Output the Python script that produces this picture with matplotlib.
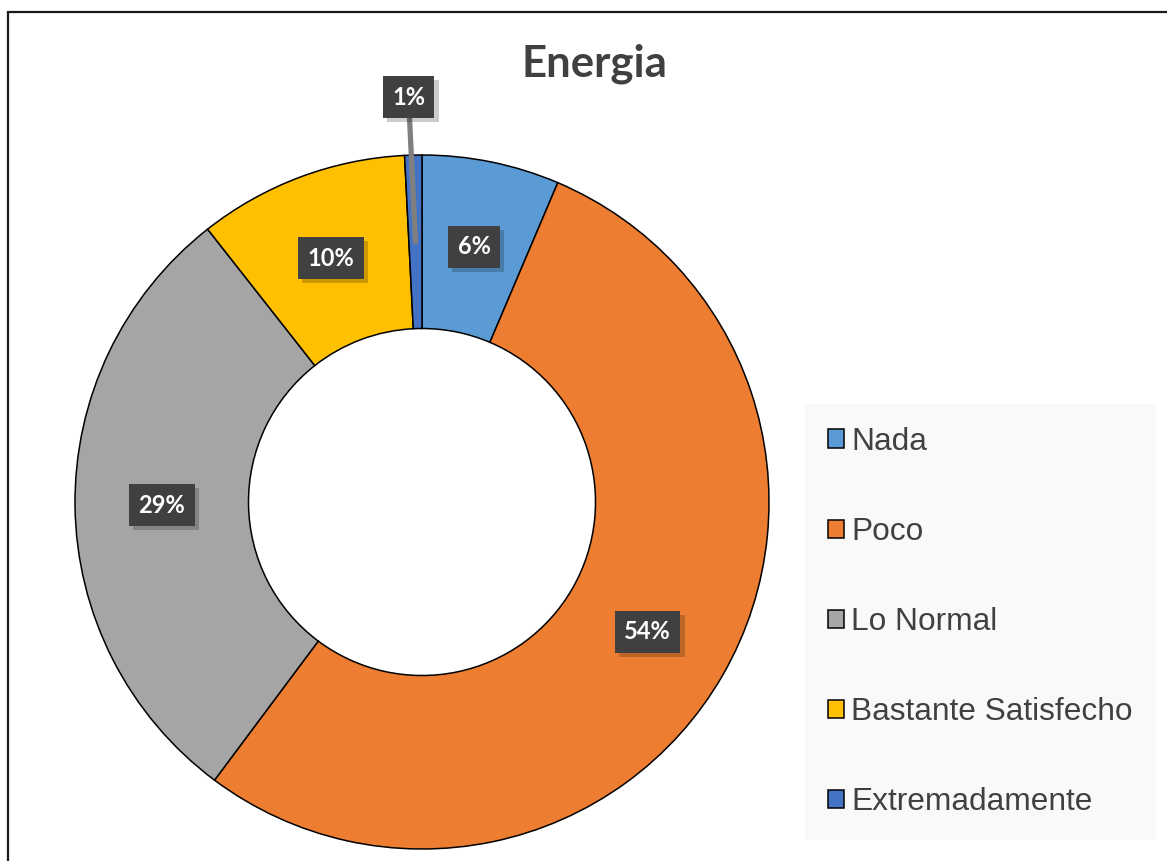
import matplotlib
matplotlib.use('Agg')
import numpy as np
import matplotlib.pyplot as plt
import matplotlib.patheffects as pe
from matplotlib.patches import Rectangle

# data (share of answers)
categories = ['Nada', 'Poco', 'Lo Normal', 'Bastante Satisfecho', 'Extremadamente']
values = [6.4, 53.8, 29.2, 9.8, 0.8]
pct_labels = ['6%', '54%', '29%', '10%', '1%']
colors = ['#5B9BD5', '#ED7D31', '#A5A5A5', '#FFC000', '#4472C4']

W, H = 1167, 861
fig = plt.figure(figsize=(W / 100, H / 100), dpi=100)
fig.patch.set_facecolor('white')

# outer frame (only top and left are visible in the crop)
fig.add_artist(Rectangle((8 / W, -0.1), 1.2, 1 - 12 / H + 0.1, transform=fig.transFigure,
                         fill=False, edgecolor='#1a1a1a', lw=1.6))

# donut: centre (422, 502), radius 347 px
cx, cy, r = 422, 502, 347
ax = fig.add_axes([(cx - r) / W, 1 - (cy + r) / H, 2 * r / W, 2 * r / H])
wedges, _ = ax.pie(values, colors=colors, startangle=90, counterclock=False,
                   radius=1, wedgeprops=dict(width=0.5, edgecolor='black', linewidth=1.1))
ax.set_xlim(-1, 1)
ax.set_ylim(-1, 1)
ax.set_aspect('equal')
ax.axis('off')

box = dict(boxstyle='square,pad=0.4', facecolor='#404040', edgecolor='none')
shadow = [pe.SimplePatchShadow(offset=(3, -3), shadow_rgbFace='black', alpha=0.2), pe.Normal()]

total = sum(values)
cum = 0
for w, v, lab in zip(wedges, values, pct_labels):
    mid = 90 - 360 * (cum + v / 2) / total
    cum += v
    x = 0.75 * np.cos(np.radians(mid))
    y = 0.75 * np.sin(np.radians(mid))
    if v < 2:
        # small slice: label outside with a leader line
        t = ax.annotate(lab, xy=(x, y), xytext=(x - 0.02, 1.167), ha='center', va='center',
                        color='white', fontsize=17, fontweight='bold', family='Lato',
                        bbox=box, annotation_clip=False,
                        arrowprops=dict(arrowstyle='-', color='#7f7f7f', lw=3.8,
                                        shrinkA=0, shrinkB=0))
    else:
        t = ax.text(x, y, lab, ha='center', va='center', color='white', fontsize=17,
                    fontweight='bold', family='Lato', bbox=box)
    t.get_bbox_patch().set_path_effects(shadow)

fig.text(594 / W, 1 - 64 / H, 'Energia', ha='center', va='center', fontsize=31.5,
         fontweight='bold', family='Lato', color='#404040')

leg = fig.legend(wedges, categories, loc='upper left', bbox_to_anchor=(805 / W, 1 - 404 / H),
                 frameon=True, fancybox=False, prop={'family': 'Liberation Sans', 'size': 22.8},
                 handlelength=0.52, handleheight=0.52, handletextpad=0.22, labelspacing=1.9,
                 borderpad=0.72, borderaxespad=0)
leg.get_frame().set_facecolor('#f8f8f8')
leg.get_frame().set_edgecolor('none')
for txt in leg.get_texts():
    txt.set_color('#404040')

plt.savefig('out.png', dpi=100)
